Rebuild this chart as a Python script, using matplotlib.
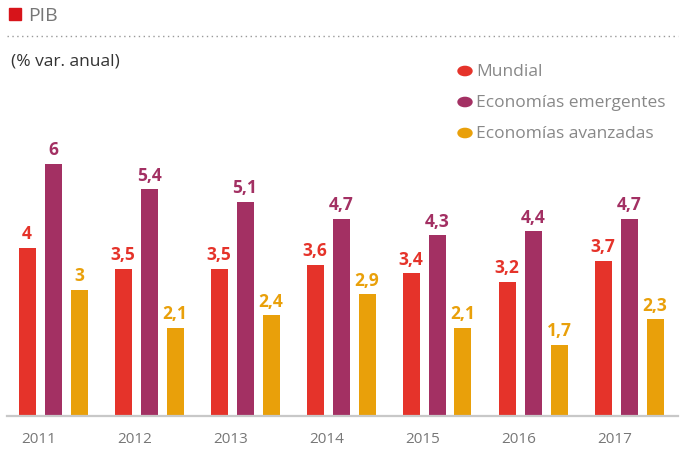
import matplotlib.pyplot as plt
import numpy as np
from matplotlib.patches import Rectangle, Circle

plt.rcParams['font.family'] = ['Open Sans', 'DejaVu Sans']

# Data
years = ['2011', '2012', '2013', '2014', '2015', '2016', '2017']
mundial = [4, 3.5, 3.5, 3.6, 3.4, 3.2, 3.7]
emergentes = [6, 5.4, 5.1, 4.7, 4.3, 4.4, 4.7]
avanzadas = [3, 2.1, 2.4, 2.9, 2.1, 1.7, 2.3]
series_names = ['Mundial', 'Economías emergentes', 'Economías avanzadas']
colors = ['#E5332A', '#A33063', '#E9A00A']

W, H = 686, 452

# (1): Figure instance:
figure = plt.figure(figsize=(W / 100, H / 100), dpi=100)

# (2): Add an Axes Object (positioned in pixels):
ax_left, ax_right = 7, 678
ax_bottom, ax_top = H - 417, H - 123
axes_object = figure.add_axes([ax_left / W, ax_bottom / H,
                               (ax_right - ax_left) / W, (ax_top - ax_bottom) / H])

group_px = 96.0
center0 = 53.0
axes_object.set_xlim((ax_left - center0) / group_px, (ax_right - center0) / group_px)
axes_object.set_ylim(0, 7)

x = np.arange(len(years))
bar_w = 17 / group_px
offset = 26 / group_px

for k, (vals, col) in enumerate(zip([mundial, emergentes, avanzadas], colors)):
    xs = x + (k - 1) * offset
    axes_object.bar(xs, vals, width=bar_w, color=col, zorder=2)
    for xi, v in zip(xs, vals):
        label = ('%g' % v).replace('.', ',')
        axes_object.annotate(label, (xi, v), xytext=(0, 4), textcoords='offset points',
                             ha='center', va='bottom', color=col,
                             fontsize=12.5, fontweight='bold')

for spine in ['top', 'right', 'left']:
    axes_object.spines[spine].set_visible(False)
axes_object.spines['bottom'].set_color('#c8c8c8')
axes_object.spines['bottom'].set_linewidth(1.6)
axes_object.set_yticks([])
axes_object.set_xticks(x - 14 / group_px)
axes_object.set_xticklabels(years, fontsize=11, color='#777777')
axes_object.tick_params(axis='x', length=0, pad=11)

# Header
figure.patches.append(Rectangle((9 / W, 1 - 21 / H), 12 / W, 12 / H,
                                transform=figure.transFigure, color='#D7141A'))
figure.text(28 / W, 1 - 16 / H, 'PIB', fontsize=14, color='#777777', va='center', ha='left')
figure.add_artist(plt.Line2D([7 / W, 678 / W], [1 - 37 / H, 1 - 37 / H],
                             transform=figure.transFigure, color='#999999',
                             linewidth=1, linestyle=(0, (1, 2.5))))
figure.text(11 / W, 1 - 61 / H, '(% var. anual)', fontsize=12.5, color='#333333',
            va='center', ha='left')

# Legend
for i, (name, col) in enumerate(zip(series_names, colors)):
    yc = 1 - (72 + 31 * i) / H
    figure.patches.append(Circle((465 / W, yc), 7 / W, transform=figure.transFigure,
                                 color=col))
    figure.text(476 / W, yc, name, fontsize=12.5, color='#888888', va='center', ha='left')

plt.savefig('out.png', dpi=100)
